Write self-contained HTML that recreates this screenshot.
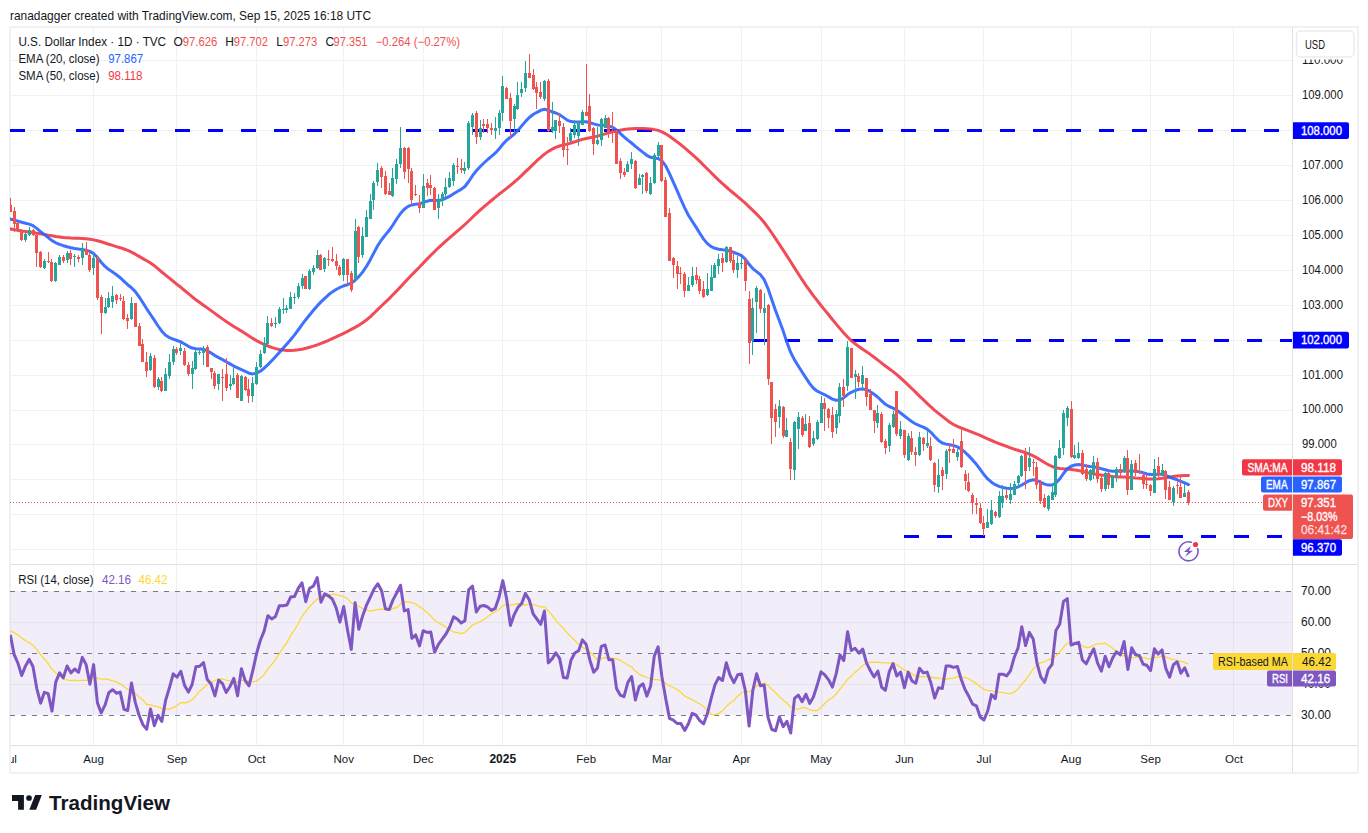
<!DOCTYPE html>
<html><head><meta charset="utf-8"><style>
html,body{margin:0;padding:0;background:#fff;width:1368px;height:833px;overflow:hidden;position:relative}
</style></head><body>
<svg width="1368" height="833" viewBox="0 0 1368 833" style="position:absolute;left:0;top:0"><defs><clipPath id="cm"><rect x="10" y="27" width="1282" height="537"/></clipPath><clipPath id="cr"><rect x="10" y="565" width="1282" height="180"/></clipPath></defs><rect x="10" y="27" width="1348" height="746" fill="none" stroke="#f1f1f3" stroke-width="2"/><text x="10" y="19.5" font-family="Liberation Sans, sans-serif" font-size="13" fill="#131722" textLength="361" lengthAdjust="spacingAndGlyphs">ranadagger created with TradingView.com, Sep 15, 2025 16:18 UTC</text><path d="M10 549.5H1292.5 M10 514.5H1292.5 M10 479.5H1292.5 M10 444.5H1292.5 M10 410.5H1292.5 M10 375.5H1292.5 M10 340.5H1292.5 M10 305.5H1292.5 M10 270.5H1292.5 M10 235.5H1292.5 M10 200.5H1292.5 M10 165.5H1292.5 M10 130.5H1292.5 M10 95.5H1292.5 M10 60.5H1292.5 M93.5 27V745.5 M176.5 27V745.5 M256.5 27V745.5 M343.5 27V745.5 M423.5 27V745.5 M502.5 27V745.5 M586.5 27V745.5 M661.5 27V745.5 M741.5 27V745.5 M821.5 27V745.5 M904.5 27V745.5 M983.5 27V745.5 M1071.5 27V745.5 M1150.5 27V745.5 M1233.5 27V745.5 M10 622.5H1292.5 M10 684.5H1292.5" stroke="#f0f2f2" stroke-width="1" fill="none"/><rect x="10" y="591" width="1282.5" height="124" fill="#7e57c2" fill-opacity="0.1"/><path d="M10 591.5H1292.5" stroke="#787b86" stroke-width="1" stroke-dasharray="5 6" fill="none"/><path d="M10 653.5H1292.5" stroke="#787b86" stroke-width="1" stroke-dasharray="5 6" fill="none"/><path d="M10 715.5H1292.5" stroke="#787b86" stroke-width="1" stroke-dasharray="5 6" fill="none"/><g clip-path="url(#cm)"><path d="M10 130.5H1292.5" stroke="#0000ff" stroke-width="3" stroke-dasharray="15 18" fill="none"/><path d="M752 340.5H1292.5" stroke="#0000ff" stroke-width="3" stroke-dasharray="15 18" fill="none"/><path d="M904 536.5H1292.5" stroke="#0000ff" stroke-width="3" stroke-dasharray="15 18" fill="none"/><path d="M10 502.5H1292.5" stroke="#ef5350" stroke-width="1" stroke-dasharray="1 2" fill="none"/><polyline points="9.7,228.8 11.9,229.2 14.7,229.7 18.0,230.2 21.7,230.9 25.5,231.4 29.2,232.0 33.0,232.6 36.8,233.2 40.6,233.8 44.4,234.5 48.2,235.2 52.0,235.8 55.8,236.5 59.6,237.0 63.3,237.5 67.1,237.8 70.9,238.1 74.7,238.2 78.5,238.3 82.3,238.5 86.1,238.8 89.9,239.2 93.6,239.9 97.4,240.8 101.2,241.8 105.0,243.0 108.8,244.2 112.6,245.4 116.4,246.6 120.2,247.7 124.0,249.0 127.7,250.4 131.5,252.2 135.3,254.2 139.1,256.4 142.9,258.6 146.7,260.7 150.5,263.0 154.3,265.7 158.1,268.8 161.8,272.0 165.6,275.1 169.4,278.2 173.2,281.2 177.0,284.3 180.8,287.3 184.6,290.5 188.4,293.6 192.1,296.7 195.9,299.7 199.7,302.5 203.5,305.2 207.3,307.9 211.1,310.6 214.9,313.4 218.7,316.2 222.5,318.9 226.2,321.5 230.0,324.0 233.8,326.4 237.6,328.8 241.4,331.1 245.2,333.6 249.0,336.0 252.8,338.4 256.6,340.6 260.3,342.6 264.1,344.4 267.9,346.0 271.7,347.4 275.5,348.6 279.3,349.5 283.1,350.1 286.9,350.4 290.6,350.4 294.4,350.2 298.2,349.8 302.0,349.2 305.8,348.3 309.6,347.3 313.4,346.1 317.2,344.8 321.0,343.4 324.7,342.0 328.5,340.4 332.3,338.7 336.1,336.9 339.9,335.1 343.7,333.3 347.5,331.4 351.3,329.4 355.1,327.4 358.8,325.2 362.6,322.8 366.4,320.0 370.2,316.8 374.0,313.2 377.8,309.4 381.6,305.7 385.4,302.1 389.2,298.6 392.9,294.8 396.7,290.9 400.5,286.9 404.3,282.8 408.1,278.8 411.9,274.8 415.7,270.9 419.5,267.0 423.2,263.1 427.0,259.1 430.8,255.3 434.6,251.5 438.4,247.8 442.2,244.3 446.0,240.9 449.8,237.6 453.6,234.3 457.3,231.1 461.1,227.9 464.9,224.5 468.7,221.0 472.5,217.3 476.3,213.7 480.1,210.2 483.9,206.9 487.7,203.6 491.4,200.5 495.2,197.4 499.0,194.3 502.8,191.4 506.6,188.4 510.4,185.4 514.2,182.2 518.0,178.9 521.7,175.3 525.5,171.7 529.3,168.1 533.1,164.4 536.9,160.7 540.7,157.3 544.5,154.1 548.3,151.4 552.1,149.2 555.8,147.4 559.6,146.0 563.4,145.0 567.2,144.1 571.0,143.0 574.8,141.8 578.6,140.5 582.4,139.4 586.2,138.5 589.9,137.8 593.7,137.0 597.5,136.1 601.3,135.0 605.1,133.9 608.9,132.7 612.7,131.8 616.5,131.0 620.2,130.3 624.0,129.6 627.8,129.1 631.6,128.7 635.4,128.5 639.2,128.5 643.0,128.6 646.8,128.8 650.6,129.1 654.3,129.6 658.1,130.4 661.9,131.8 665.7,133.8 669.5,136.2 673.3,139.0 677.1,141.9 680.9,144.8 684.7,147.9 688.4,151.1 692.2,154.4 696.0,157.8 699.8,161.4 703.6,165.2 707.4,169.0 711.2,172.8 715.0,176.6 718.7,180.2 722.5,183.7 726.3,187.0 730.1,190.3 733.9,193.5 737.7,196.7 741.5,199.9 745.3,203.2 749.1,206.8 752.8,210.4 756.6,214.1 760.4,218.0 764.2,222.5 768.0,227.6 771.8,233.0 775.6,238.7 779.4,244.3 783.2,250.1 786.9,255.9 790.7,261.8 794.5,267.9 798.3,273.8 802.1,279.7 805.9,285.3 809.7,290.6 813.5,295.8 817.3,300.7 821.0,305.5 824.8,310.1 828.6,314.8 832.4,319.5 836.2,324.1 840.0,328.6 843.8,332.9 847.6,337.0 851.3,340.6 855.1,343.8 858.9,346.6 862.7,349.2 866.5,351.7 870.3,354.4 874.1,357.2 877.9,360.1 881.7,363.1 885.4,366.0 889.2,368.8 893.0,371.6 896.8,374.7 900.6,378.0 904.4,381.4 908.2,385.1 912.0,388.8 915.8,392.4 919.5,396.1 923.3,399.7 927.1,403.4 930.9,406.9 934.7,410.3 938.5,413.4 942.3,416.4 946.1,419.4 949.8,422.2 953.6,424.6 957.4,426.4 961.2,428.0 965.0,429.4 968.8,430.9 972.6,432.3 976.4,433.8 980.2,435.4 983.9,437.1 987.7,438.9 991.5,440.5 995.3,442.1 999.1,443.6 1002.9,445.0 1006.7,446.4 1010.5,447.8 1014.3,449.2 1018.0,450.3 1021.8,451.5 1025.6,452.7 1029.4,454.1 1033.2,455.9 1037.0,457.9 1040.8,460.2 1044.6,462.5 1048.3,464.7 1052.1,466.5 1055.9,467.7 1059.7,468.4 1063.5,468.8 1067.3,469.1 1071.1,469.4 1074.9,469.9 1078.7,470.6 1082.4,471.5 1086.2,472.4 1090.0,473.2 1093.8,473.9 1097.6,474.4 1101.4,475.0 1105.2,475.5 1109.0,475.9 1112.8,476.4 1116.5,476.7 1120.3,476.9 1124.1,477.0 1127.9,477.3 1131.7,477.5 1135.5,477.9 1139.3,478.2 1143.1,478.6 1146.8,478.9 1150.6,479.0 1154.4,479.0 1158.2,478.7 1162.0,478.3 1165.8,477.7 1169.6,477.1 1173.4,476.6 1177.2,476.1 1180.9,475.7 1184.7,475.6 1188.5,475.5" fill="none" stroke="#f23645" stroke-width="3" stroke-linejoin="round" stroke-linecap="round" opacity="0.9"/><polyline points="9.7,218.9 11.1,219.2 14.1,220.0 17.9,221.1 21.7,222.3 25.5,223.3 29.2,224.1 33.0,225.7 36.8,228.4 40.6,231.6 44.4,234.6 48.2,237.6 52.0,240.6 55.8,242.8 59.6,244.4 63.3,245.7 67.1,246.8 70.9,247.7 74.7,248.5 78.5,249.1 82.3,249.5 86.1,250.2 89.9,251.4 93.6,253.6 97.4,257.4 101.2,262.2 105.0,266.4 108.8,269.6 112.6,272.1 116.4,274.7 120.2,277.7 124.0,281.3 127.7,284.7 131.5,287.7 135.3,291.6 139.1,296.8 142.9,302.8 146.7,308.8 150.5,314.5 154.3,320.2 158.1,326.0 161.8,331.2 165.6,335.2 169.4,337.6 173.2,339.2 177.0,340.5 180.8,341.9 184.6,344.0 188.4,346.3 192.1,348.1 195.9,348.7 199.7,348.9 203.5,349.3 207.3,350.7 211.1,353.1 214.9,355.6 218.7,357.6 222.5,359.6 226.2,361.8 230.0,363.9 233.8,366.0 237.6,367.9 241.4,369.6 245.2,371.4 249.0,373.2 252.8,373.9 256.6,373.1 260.3,371.2 264.1,368.2 267.9,364.6 271.7,360.7 275.5,356.8 279.3,352.5 283.1,348.3 286.9,344.0 290.6,339.7 294.4,335.1 298.2,330.0 302.0,324.7 305.8,319.7 309.6,315.0 313.4,310.3 317.2,305.9 321.0,301.9 324.7,298.3 328.5,294.8 332.3,291.9 336.1,289.5 339.9,287.5 343.7,285.8 347.5,284.7 351.3,283.2 355.1,280.3 358.8,276.6 362.6,272.1 366.4,266.5 370.2,259.9 374.0,252.6 377.8,245.5 381.6,239.7 385.4,234.9 389.2,230.3 392.9,225.0 396.7,219.0 400.5,213.5 404.3,209.3 408.1,206.4 411.9,204.9 415.7,204.2 419.5,203.7 423.2,202.7 427.0,201.2 430.8,200.3 434.6,200.4 438.4,200.5 442.2,199.7 446.0,198.2 449.8,196.2 453.6,193.8 457.3,191.5 461.1,189.4 464.9,186.5 468.7,181.5 472.5,175.7 476.3,170.8 480.1,166.8 483.9,163.0 487.7,159.5 491.4,156.4 495.2,153.2 499.0,149.1 502.8,144.3 506.6,140.3 510.4,137.3 514.2,134.2 518.0,130.3 521.7,125.9 525.5,121.4 529.3,117.5 533.1,114.5 536.9,112.3 540.7,110.3 544.5,109.3 548.3,110.2 552.1,111.8 555.8,113.0 559.6,114.7 563.4,117.4 567.2,120.1 571.0,121.6 574.8,122.0 578.6,121.9 582.4,121.7 586.2,121.8 589.9,122.7 593.7,123.9 597.5,124.9 601.3,125.2 605.1,125.3 608.9,125.8 612.7,127.3 616.5,129.9 620.2,133.3 624.0,136.9 627.8,140.1 631.6,143.0 635.4,146.3 639.2,149.4 643.0,152.4 646.8,155.3 650.6,157.3 654.3,157.9 658.1,158.5 661.9,160.8 665.7,165.9 669.5,173.6 673.3,182.2 677.1,190.7 680.9,199.5 684.7,207.9 688.4,215.2 692.2,221.3 696.0,227.1 699.8,233.3 703.6,239.1 707.4,243.6 711.2,246.6 715.0,248.3 718.7,249.3 722.5,249.8 726.3,250.2 730.1,251.1 733.9,252.5 737.7,253.9 741.5,255.7 745.3,259.1 749.1,264.3 752.8,268.6 756.6,271.6 760.4,274.6 764.2,279.7 768.0,288.6 771.8,299.8 775.6,310.7 779.4,320.7 783.2,331.1 786.9,342.2 790.7,352.4 794.5,359.9 798.3,366.0 802.1,372.0 805.9,377.9 809.7,383.6 813.5,388.3 817.3,391.2 821.0,393.0 824.8,394.8 828.6,396.9 832.4,399.1 836.2,400.3 840.0,399.9 843.8,397.7 847.6,394.6 851.3,392.3 855.1,390.5 858.9,389.3 862.7,388.9 866.5,389.7 870.3,391.7 874.1,394.2 877.9,397.2 881.7,400.9 885.4,404.3 889.2,406.5 893.0,408.1 896.8,410.2 900.6,413.0 904.4,416.0 908.2,418.9 912.0,421.7 915.8,424.0 919.5,425.7 923.3,427.2 927.1,429.2 930.9,432.3 934.7,436.5 938.5,440.4 942.3,443.0 946.1,444.1 949.8,444.8 953.6,445.6 957.4,446.9 961.2,449.1 965.0,452.2 968.8,455.9 972.6,459.9 976.4,464.3 980.2,469.3 983.9,474.5 987.7,478.9 991.5,482.2 995.3,484.7 999.1,486.4 1002.9,487.5 1006.7,488.3 1010.5,488.6 1014.3,488.2 1018.0,486.9 1021.8,485.0 1025.6,482.7 1029.4,480.7 1033.2,479.7 1037.0,480.5 1040.8,482.3 1044.6,484.1 1048.3,485.1 1052.1,485.0 1055.9,483.1 1059.7,479.0 1063.5,473.5 1067.3,468.7 1071.1,466.2 1074.9,465.0 1078.7,464.6 1082.4,465.1 1086.2,465.9 1090.0,466.4 1093.8,466.7 1097.6,467.6 1101.4,468.7 1105.2,469.7 1109.0,470.7 1112.8,471.2 1116.5,471.3 1120.3,471.1 1124.1,471.0 1127.9,471.1 1131.7,471.1 1135.5,471.2 1139.3,471.7 1143.1,472.7 1146.8,473.9 1150.6,474.6 1154.4,474.6 1158.2,474.2 1162.0,474.2 1165.8,475.4 1169.6,477.2 1173.4,478.6 1177.2,479.8 1180.9,481.3 1184.7,482.9 1188.5,484.7" fill="none" stroke="#2962ff" stroke-width="3" stroke-linejoin="round" stroke-linecap="round" opacity="0.9"/><rect x="10" y="198" width="1" height="14" fill="#ef5350"/>
<rect x="9" y="205" width="3" height="7" fill="#ef5350"/>
<rect x="14" y="207" width="1" height="25" fill="#ef5350"/>
<rect x="13" y="211" width="3" height="13" fill="#ef5350"/>
<rect x="17" y="222" width="1" height="10" fill="#ef5350"/>
<rect x="16" y="223" width="3" height="8" fill="#ef5350"/>
<rect x="21" y="229" width="1" height="12" fill="#ef5350"/>
<rect x="20" y="230" width="3" height="10" fill="#ef5350"/>
<rect x="25" y="233" width="1" height="9" fill="#26a69a"/>
<rect x="24" y="234" width="3" height="6" fill="#26a69a"/>
<rect x="29" y="227" width="1" height="9" fill="#26a69a"/>
<rect x="28" y="230" width="3" height="5" fill="#26a69a"/>
<rect x="33" y="229" width="1" height="7" fill="#ef5350"/>
<rect x="32" y="230" width="3" height="5" fill="#ef5350"/>
<rect x="36" y="235" width="1" height="32" fill="#ef5350"/>
<rect x="35" y="235" width="3" height="18" fill="#ef5350"/>
<rect x="40" y="251" width="1" height="17" fill="#ef5350"/>
<rect x="39" y="252" width="3" height="15" fill="#ef5350"/>
<rect x="44" y="259" width="1" height="10" fill="#26a69a"/>
<rect x="43" y="261" width="3" height="7" fill="#26a69a"/>
<rect x="48" y="252" width="1" height="11" fill="#ef5350"/>
<rect x="47" y="261" width="3" height="1" fill="#ef5350"/>
<rect x="51" y="259" width="1" height="23" fill="#ef5350"/>
<rect x="50" y="262" width="3" height="19" fill="#ef5350"/>
<rect x="55" y="262" width="1" height="20" fill="#26a69a"/>
<rect x="54" y="263" width="3" height="18" fill="#26a69a"/>
<rect x="59" y="255" width="1" height="10" fill="#26a69a"/>
<rect x="58" y="257" width="3" height="8" fill="#26a69a"/>
<rect x="63" y="255" width="1" height="8" fill="#ef5350"/>
<rect x="62" y="257" width="3" height="4" fill="#ef5350"/>
<rect x="67" y="251" width="1" height="12" fill="#26a69a"/>
<rect x="66" y="253" width="3" height="7" fill="#26a69a"/>
<rect x="70" y="250" width="1" height="15" fill="#ef5350"/>
<rect x="69" y="253" width="3" height="6" fill="#ef5350"/>
<rect x="74" y="254" width="1" height="13" fill="#26a69a"/>
<rect x="73" y="256" width="3" height="1" fill="#26a69a"/>
<rect x="78" y="255" width="1" height="7" fill="#ef5350"/>
<rect x="77" y="257" width="3" height="2" fill="#ef5350"/>
<rect x="82" y="243" width="1" height="22" fill="#26a69a"/>
<rect x="81" y="249" width="3" height="9" fill="#26a69a"/>
<rect x="86" y="242" width="1" height="13" fill="#ef5350"/>
<rect x="85" y="249" width="3" height="6" fill="#ef5350"/>
<rect x="89" y="251" width="1" height="21" fill="#ef5350"/>
<rect x="88" y="255" width="3" height="15" fill="#ef5350"/>
<rect x="93" y="253" width="1" height="22" fill="#26a69a"/>
<rect x="92" y="258" width="3" height="10" fill="#26a69a"/>
<rect x="97" y="256" width="1" height="44" fill="#ef5350"/>
<rect x="96" y="258" width="3" height="40" fill="#ef5350"/>
<rect x="101" y="295" width="1" height="39" fill="#ef5350"/>
<rect x="100" y="297" width="3" height="16" fill="#ef5350"/>
<rect x="105" y="298" width="1" height="16" fill="#26a69a"/>
<rect x="104" y="307" width="3" height="6" fill="#26a69a"/>
<rect x="108" y="292" width="1" height="16" fill="#26a69a"/>
<rect x="107" y="298" width="3" height="9" fill="#26a69a"/>
<rect x="112" y="286" width="1" height="22" fill="#26a69a"/>
<rect x="111" y="296" width="3" height="6" fill="#26a69a"/>
<rect x="116" y="294" width="1" height="10" fill="#ef5350"/>
<rect x="115" y="295" width="3" height="5" fill="#ef5350"/>
<rect x="120" y="294" width="1" height="7" fill="#ef5350"/>
<rect x="119" y="298" width="3" height="1" fill="#ef5350"/>
<rect x="123" y="296" width="1" height="24" fill="#ef5350"/>
<rect x="122" y="301" width="3" height="18" fill="#ef5350"/>
<rect x="127" y="314" width="1" height="15" fill="#ef5350"/>
<rect x="126" y="318" width="3" height="3" fill="#ef5350"/>
<rect x="131" y="297" width="1" height="23" fill="#26a69a"/>
<rect x="130" y="303" width="3" height="16" fill="#26a69a"/>
<rect x="135" y="303" width="1" height="24" fill="#ef5350"/>
<rect x="134" y="303" width="3" height="24" fill="#ef5350"/>
<rect x="139" y="323" width="1" height="23" fill="#ef5350"/>
<rect x="138" y="326" width="3" height="20" fill="#ef5350"/>
<rect x="142" y="339" width="1" height="23" fill="#ef5350"/>
<rect x="141" y="344" width="3" height="18" fill="#ef5350"/>
<rect x="146" y="352" width="1" height="25" fill="#ef5350"/>
<rect x="145" y="362" width="3" height="9" fill="#ef5350"/>
<rect x="150" y="353" width="1" height="18" fill="#26a69a"/>
<rect x="149" y="356" width="3" height="14" fill="#26a69a"/>
<rect x="154" y="355" width="1" height="33" fill="#ef5350"/>
<rect x="153" y="358" width="3" height="29" fill="#ef5350"/>
<rect x="158" y="377" width="1" height="13" fill="#26a69a"/>
<rect x="157" y="379" width="3" height="8" fill="#26a69a"/>
<rect x="161" y="377" width="1" height="15" fill="#ef5350"/>
<rect x="160" y="381" width="3" height="10" fill="#ef5350"/>
<rect x="165" y="368" width="1" height="23" fill="#26a69a"/>
<rect x="164" y="374" width="3" height="17" fill="#26a69a"/>
<rect x="169" y="354" width="1" height="25" fill="#26a69a"/>
<rect x="168" y="362" width="3" height="14" fill="#26a69a"/>
<rect x="173" y="346" width="1" height="19" fill="#26a69a"/>
<rect x="172" y="349" width="3" height="13" fill="#26a69a"/>
<rect x="176" y="347" width="1" height="8" fill="#ef5350"/>
<rect x="175" y="349" width="3" height="4" fill="#ef5350"/>
<rect x="180" y="343" width="1" height="12" fill="#26a69a"/>
<rect x="179" y="348" width="3" height="3" fill="#26a69a"/>
<rect x="184" y="348" width="1" height="18" fill="#ef5350"/>
<rect x="183" y="351" width="3" height="14" fill="#ef5350"/>
<rect x="188" y="362" width="1" height="14" fill="#ef5350"/>
<rect x="187" y="365" width="3" height="9" fill="#ef5350"/>
<rect x="192" y="361" width="1" height="28" fill="#26a69a"/>
<rect x="191" y="368" width="3" height="6" fill="#26a69a"/>
<rect x="195" y="350" width="1" height="20" fill="#26a69a"/>
<rect x="194" y="352" width="3" height="17" fill="#26a69a"/>
<rect x="199" y="349" width="1" height="6" fill="#26a69a"/>
<rect x="198" y="352" width="3" height="1" fill="#26a69a"/>
<rect x="203" y="346" width="1" height="19" fill="#26a69a"/>
<rect x="202" y="349" width="3" height="4" fill="#26a69a"/>
<rect x="207" y="345" width="1" height="22" fill="#ef5350"/>
<rect x="206" y="347" width="3" height="20" fill="#ef5350"/>
<rect x="211" y="368" width="1" height="11" fill="#ef5350"/>
<rect x="210" y="368" width="3" height="4" fill="#ef5350"/>
<rect x="214" y="371" width="1" height="18" fill="#ef5350"/>
<rect x="213" y="373" width="3" height="13" fill="#ef5350"/>
<rect x="218" y="374" width="1" height="16" fill="#26a69a"/>
<rect x="217" y="374" width="3" height="10" fill="#26a69a"/>
<rect x="222" y="369" width="1" height="32" fill="#ef5350"/>
<rect x="221" y="377" width="3" height="1" fill="#ef5350"/>
<rect x="226" y="358" width="1" height="33" fill="#ef5350"/>
<rect x="225" y="374" width="3" height="14" fill="#ef5350"/>
<rect x="230" y="375" width="1" height="15" fill="#26a69a"/>
<rect x="229" y="384" width="3" height="2" fill="#26a69a"/>
<rect x="233" y="367" width="1" height="18" fill="#26a69a"/>
<rect x="232" y="378" width="3" height="6" fill="#26a69a"/>
<rect x="237" y="373" width="1" height="25" fill="#ef5350"/>
<rect x="236" y="375" width="3" height="23" fill="#ef5350"/>
<rect x="241" y="375" width="1" height="26" fill="#26a69a"/>
<rect x="240" y="376" width="3" height="25" fill="#26a69a"/>
<rect x="245" y="376" width="1" height="15" fill="#ef5350"/>
<rect x="244" y="377" width="3" height="13" fill="#ef5350"/>
<rect x="248" y="379" width="1" height="24" fill="#ef5350"/>
<rect x="247" y="389" width="3" height="7" fill="#ef5350"/>
<rect x="252" y="377" width="1" height="25" fill="#26a69a"/>
<rect x="251" y="383" width="3" height="13" fill="#26a69a"/>
<rect x="256" y="362" width="1" height="23" fill="#26a69a"/>
<rect x="255" y="367" width="3" height="17" fill="#26a69a"/>
<rect x="260" y="350" width="1" height="18" fill="#26a69a"/>
<rect x="259" y="354" width="3" height="13" fill="#26a69a"/>
<rect x="264" y="337" width="1" height="17" fill="#26a69a"/>
<rect x="263" y="343" width="3" height="10" fill="#26a69a"/>
<rect x="267" y="316" width="1" height="29" fill="#26a69a"/>
<rect x="266" y="323" width="3" height="21" fill="#26a69a"/>
<rect x="271" y="318" width="1" height="9" fill="#ef5350"/>
<rect x="270" y="323" width="3" height="3" fill="#ef5350"/>
<rect x="275" y="317" width="1" height="11" fill="#26a69a"/>
<rect x="274" y="323" width="3" height="1" fill="#26a69a"/>
<rect x="279" y="307" width="1" height="17" fill="#26a69a"/>
<rect x="278" y="309" width="3" height="14" fill="#26a69a"/>
<rect x="283" y="298" width="1" height="16" fill="#26a69a"/>
<rect x="282" y="309" width="3" height="1" fill="#26a69a"/>
<rect x="286" y="305" width="1" height="8" fill="#26a69a"/>
<rect x="285" y="308" width="3" height="2" fill="#26a69a"/>
<rect x="290" y="292" width="1" height="17" fill="#26a69a"/>
<rect x="289" y="297" width="3" height="12" fill="#26a69a"/>
<rect x="294" y="293" width="1" height="11" fill="#26a69a"/>
<rect x="293" y="297" width="3" height="1" fill="#26a69a"/>
<rect x="298" y="283" width="1" height="16" fill="#26a69a"/>
<rect x="297" y="286" width="3" height="11" fill="#26a69a"/>
<rect x="302" y="274" width="1" height="15" fill="#26a69a"/>
<rect x="301" y="278" width="3" height="8" fill="#26a69a"/>
<rect x="305" y="276" width="1" height="13" fill="#ef5350"/>
<rect x="304" y="276" width="3" height="13" fill="#ef5350"/>
<rect x="309" y="269" width="1" height="21" fill="#26a69a"/>
<rect x="308" y="271" width="3" height="18" fill="#26a69a"/>
<rect x="313" y="265" width="1" height="10" fill="#26a69a"/>
<rect x="312" y="268" width="3" height="4" fill="#26a69a"/>
<rect x="317" y="250" width="1" height="19" fill="#26a69a"/>
<rect x="316" y="255" width="3" height="13" fill="#26a69a"/>
<rect x="320" y="254" width="1" height="16" fill="#ef5350"/>
<rect x="319" y="255" width="3" height="15" fill="#ef5350"/>
<rect x="324" y="257" width="1" height="15" fill="#26a69a"/>
<rect x="323" y="258" width="3" height="11" fill="#26a69a"/>
<rect x="328" y="250" width="1" height="16" fill="#ef5350"/>
<rect x="327" y="259" width="3" height="1" fill="#ef5350"/>
<rect x="332" y="247" width="1" height="15" fill="#ef5350"/>
<rect x="331" y="259" width="3" height="2" fill="#ef5350"/>
<rect x="336" y="254" width="1" height="16" fill="#ef5350"/>
<rect x="335" y="261" width="3" height="5" fill="#ef5350"/>
<rect x="339" y="265" width="1" height="11" fill="#ef5350"/>
<rect x="338" y="267" width="3" height="8" fill="#ef5350"/>
<rect x="343" y="258" width="1" height="23" fill="#26a69a"/>
<rect x="342" y="259" width="3" height="16" fill="#26a69a"/>
<rect x="347" y="259" width="1" height="26" fill="#ef5350"/>
<rect x="346" y="259" width="3" height="16" fill="#ef5350"/>
<rect x="351" y="271" width="1" height="21" fill="#ef5350"/>
<rect x="350" y="273" width="3" height="17" fill="#ef5350"/>
<rect x="355" y="219" width="1" height="62" fill="#26a69a"/>
<rect x="354" y="231" width="3" height="49" fill="#26a69a"/>
<rect x="358" y="226" width="1" height="37" fill="#ef5350"/>
<rect x="357" y="227" width="3" height="30" fill="#ef5350"/>
<rect x="362" y="227" width="1" height="31" fill="#26a69a"/>
<rect x="361" y="236" width="3" height="19" fill="#26a69a"/>
<rect x="366" y="210" width="1" height="27" fill="#26a69a"/>
<rect x="365" y="217" width="3" height="20" fill="#26a69a"/>
<rect x="370" y="194" width="1" height="25" fill="#26a69a"/>
<rect x="369" y="201" width="3" height="18" fill="#26a69a"/>
<rect x="373" y="181" width="1" height="29" fill="#26a69a"/>
<rect x="372" y="183" width="3" height="17" fill="#26a69a"/>
<rect x="377" y="163" width="1" height="23" fill="#26a69a"/>
<rect x="376" y="170" width="3" height="12" fill="#26a69a"/>
<rect x="381" y="166" width="1" height="22" fill="#ef5350"/>
<rect x="380" y="168" width="3" height="9" fill="#ef5350"/>
<rect x="385" y="171" width="1" height="24" fill="#ef5350"/>
<rect x="384" y="176" width="3" height="18" fill="#ef5350"/>
<rect x="389" y="183" width="1" height="12" fill="#ef5350"/>
<rect x="388" y="191" width="3" height="4" fill="#ef5350"/>
<rect x="392" y="168" width="1" height="29" fill="#26a69a"/>
<rect x="391" y="178" width="3" height="18" fill="#26a69a"/>
<rect x="396" y="159" width="1" height="25" fill="#26a69a"/>
<rect x="395" y="164" width="3" height="15" fill="#26a69a"/>
<rect x="400" y="127" width="1" height="41" fill="#26a69a"/>
<rect x="399" y="148" width="3" height="16" fill="#26a69a"/>
<rect x="404" y="147" width="1" height="32" fill="#ef5350"/>
<rect x="403" y="148" width="3" height="24" fill="#ef5350"/>
<rect x="408" y="147" width="1" height="36" fill="#ef5350"/>
<rect x="407" y="148" width="3" height="21" fill="#ef5350"/>
<rect x="411" y="168" width="1" height="37" fill="#ef5350"/>
<rect x="410" y="171" width="3" height="29" fill="#ef5350"/>
<rect x="415" y="185" width="1" height="11" fill="#ef5350"/>
<rect x="414" y="194" width="3" height="1" fill="#ef5350"/>
<rect x="419" y="195" width="1" height="18" fill="#ef5350"/>
<rect x="418" y="203" width="3" height="5" fill="#ef5350"/>
<rect x="423" y="174" width="1" height="34" fill="#26a69a"/>
<rect x="422" y="186" width="3" height="22" fill="#26a69a"/>
<rect x="427" y="179" width="1" height="17" fill="#ef5350"/>
<rect x="426" y="183" width="3" height="5" fill="#ef5350"/>
<rect x="430" y="175" width="1" height="20" fill="#ef5350"/>
<rect x="429" y="185" width="3" height="3" fill="#ef5350"/>
<rect x="434" y="187" width="1" height="23" fill="#ef5350"/>
<rect x="433" y="188" width="3" height="22" fill="#ef5350"/>
<rect x="438" y="194" width="1" height="25" fill="#26a69a"/>
<rect x="437" y="200" width="3" height="8" fill="#26a69a"/>
<rect x="442" y="192" width="1" height="14" fill="#26a69a"/>
<rect x="441" y="194" width="3" height="7" fill="#26a69a"/>
<rect x="445" y="178" width="1" height="19" fill="#26a69a"/>
<rect x="444" y="187" width="3" height="7" fill="#26a69a"/>
<rect x="449" y="172" width="1" height="16" fill="#26a69a"/>
<rect x="448" y="178" width="3" height="9" fill="#26a69a"/>
<rect x="453" y="163" width="1" height="23" fill="#26a69a"/>
<rect x="452" y="165" width="3" height="16" fill="#26a69a"/>
<rect x="457" y="158" width="1" height="16" fill="#ef5350"/>
<rect x="456" y="166" width="3" height="1" fill="#ef5350"/>
<rect x="461" y="159" width="1" height="14" fill="#ef5350"/>
<rect x="460" y="168" width="3" height="2" fill="#ef5350"/>
<rect x="464" y="162" width="1" height="12" fill="#26a69a"/>
<rect x="463" y="168" width="3" height="3" fill="#26a69a"/>
<rect x="468" y="121" width="1" height="49" fill="#26a69a"/>
<rect x="467" y="123" width="3" height="45" fill="#26a69a"/>
<rect x="472" y="113" width="1" height="22" fill="#26a69a"/>
<rect x="471" y="115" width="3" height="12" fill="#26a69a"/>
<rect x="476" y="111" width="1" height="33" fill="#ef5350"/>
<rect x="475" y="113" width="3" height="24" fill="#ef5350"/>
<rect x="480" y="120" width="1" height="20" fill="#26a69a"/>
<rect x="479" y="128" width="3" height="9" fill="#26a69a"/>
<rect x="483" y="119" width="1" height="14" fill="#ef5350"/>
<rect x="482" y="124" width="3" height="2" fill="#ef5350"/>
<rect x="487" y="119" width="1" height="14" fill="#ef5350"/>
<rect x="486" y="124" width="3" height="4" fill="#ef5350"/>
<rect x="491" y="123" width="1" height="12" fill="#ef5350"/>
<rect x="490" y="128" width="3" height="2" fill="#ef5350"/>
<rect x="495" y="117" width="1" height="22" fill="#26a69a"/>
<rect x="494" y="128" width="3" height="3" fill="#26a69a"/>
<rect x="499" y="110" width="1" height="25" fill="#26a69a"/>
<rect x="498" y="113" width="3" height="15" fill="#26a69a"/>
<rect x="502" y="76" width="1" height="45" fill="#26a69a"/>
<rect x="501" y="86" width="3" height="27" fill="#26a69a"/>
<rect x="506" y="87" width="1" height="12" fill="#ef5350"/>
<rect x="505" y="88" width="3" height="11" fill="#ef5350"/>
<rect x="510" y="93" width="1" height="45" fill="#ef5350"/>
<rect x="509" y="98" width="3" height="23" fill="#ef5350"/>
<rect x="514" y="104" width="1" height="30" fill="#26a69a"/>
<rect x="513" y="106" width="3" height="13" fill="#26a69a"/>
<rect x="517" y="82" width="1" height="28" fill="#26a69a"/>
<rect x="516" y="95" width="3" height="14" fill="#26a69a"/>
<rect x="521" y="82" width="1" height="15" fill="#26a69a"/>
<rect x="520" y="89" width="3" height="4" fill="#26a69a"/>
<rect x="525" y="61" width="1" height="31" fill="#26a69a"/>
<rect x="524" y="73" width="3" height="15" fill="#26a69a"/>
<rect x="529" y="54" width="1" height="24" fill="#ef5350"/>
<rect x="528" y="73" width="3" height="5" fill="#ef5350"/>
<rect x="533" y="69" width="1" height="21" fill="#ef5350"/>
<rect x="532" y="75" width="3" height="14" fill="#ef5350"/>
<rect x="536" y="82" width="1" height="27" fill="#ef5350"/>
<rect x="535" y="87" width="3" height="6" fill="#ef5350"/>
<rect x="540" y="82" width="1" height="17" fill="#ef5350"/>
<rect x="539" y="92" width="3" height="5" fill="#ef5350"/>
<rect x="544" y="80" width="1" height="21" fill="#26a69a"/>
<rect x="543" y="81" width="3" height="18" fill="#26a69a"/>
<rect x="548" y="79" width="1" height="53" fill="#ef5350"/>
<rect x="547" y="81" width="3" height="50" fill="#ef5350"/>
<rect x="552" y="102" width="1" height="31" fill="#26a69a"/>
<rect x="551" y="127" width="3" height="4" fill="#26a69a"/>
<rect x="555" y="120" width="1" height="19" fill="#26a69a"/>
<rect x="554" y="120" width="3" height="11" fill="#26a69a"/>
<rect x="559" y="113" width="1" height="20" fill="#ef5350"/>
<rect x="558" y="121" width="3" height="5" fill="#ef5350"/>
<rect x="563" y="123" width="1" height="34" fill="#ef5350"/>
<rect x="562" y="127" width="3" height="23" fill="#ef5350"/>
<rect x="567" y="137" width="1" height="28" fill="#ef5350"/>
<rect x="566" y="149" width="3" height="1" fill="#ef5350"/>
<rect x="570" y="128" width="1" height="14" fill="#26a69a"/>
<rect x="569" y="133" width="3" height="8" fill="#26a69a"/>
<rect x="574" y="120" width="1" height="18" fill="#26a69a"/>
<rect x="573" y="125" width="3" height="10" fill="#26a69a"/>
<rect x="578" y="121" width="1" height="25" fill="#26a69a"/>
<rect x="577" y="123" width="3" height="13" fill="#26a69a"/>
<rect x="582" y="110" width="1" height="15" fill="#26a69a"/>
<rect x="581" y="112" width="3" height="13" fill="#26a69a"/>
<rect x="586" y="64" width="1" height="52" fill="#ef5350"/>
<rect x="585" y="112" width="3" height="4" fill="#ef5350"/>
<rect x="589" y="94" width="1" height="38" fill="#ef5350"/>
<rect x="588" y="106" width="3" height="25" fill="#ef5350"/>
<rect x="593" y="127" width="1" height="28" fill="#ef5350"/>
<rect x="592" y="128" width="3" height="16" fill="#ef5350"/>
<rect x="597" y="127" width="1" height="18" fill="#26a69a"/>
<rect x="596" y="140" width="3" height="4" fill="#26a69a"/>
<rect x="601" y="118" width="1" height="28" fill="#26a69a"/>
<rect x="600" y="119" width="3" height="21" fill="#26a69a"/>
<rect x="605" y="115" width="1" height="13" fill="#26a69a"/>
<rect x="604" y="118" width="3" height="10" fill="#26a69a"/>
<rect x="608" y="117" width="1" height="21" fill="#ef5350"/>
<rect x="607" y="118" width="3" height="14" fill="#ef5350"/>
<rect x="612" y="112" width="1" height="31" fill="#ef5350"/>
<rect x="611" y="131" width="3" height="1" fill="#ef5350"/>
<rect x="616" y="130" width="1" height="34" fill="#ef5350"/>
<rect x="615" y="131" width="3" height="33" fill="#ef5350"/>
<rect x="620" y="158" width="1" height="21" fill="#ef5350"/>
<rect x="619" y="161" width="3" height="12" fill="#ef5350"/>
<rect x="624" y="168" width="1" height="9" fill="#ef5350"/>
<rect x="623" y="172" width="3" height="3" fill="#ef5350"/>
<rect x="627" y="161" width="1" height="11" fill="#26a69a"/>
<rect x="626" y="164" width="3" height="8" fill="#26a69a"/>
<rect x="631" y="152" width="1" height="17" fill="#26a69a"/>
<rect x="630" y="159" width="3" height="5" fill="#26a69a"/>
<rect x="635" y="160" width="1" height="29" fill="#ef5350"/>
<rect x="634" y="161" width="3" height="27" fill="#ef5350"/>
<rect x="639" y="174" width="1" height="11" fill="#26a69a"/>
<rect x="638" y="178" width="3" height="7" fill="#26a69a"/>
<rect x="642" y="174" width="1" height="20" fill="#26a69a"/>
<rect x="641" y="175" width="3" height="2" fill="#26a69a"/>
<rect x="646" y="172" width="1" height="21" fill="#ef5350"/>
<rect x="645" y="173" width="3" height="18" fill="#ef5350"/>
<rect x="650" y="177" width="1" height="18" fill="#26a69a"/>
<rect x="649" y="183" width="3" height="11" fill="#26a69a"/>
<rect x="654" y="153" width="1" height="31" fill="#26a69a"/>
<rect x="653" y="155" width="3" height="28" fill="#26a69a"/>
<rect x="658" y="142" width="1" height="16" fill="#26a69a"/>
<rect x="657" y="145" width="3" height="11" fill="#26a69a"/>
<rect x="661" y="145" width="1" height="37" fill="#ef5350"/>
<rect x="660" y="145" width="3" height="36" fill="#ef5350"/>
<rect x="665" y="177" width="1" height="40" fill="#ef5350"/>
<rect x="664" y="180" width="3" height="37" fill="#ef5350"/>
<rect x="669" y="208" width="1" height="53" fill="#ef5350"/>
<rect x="668" y="213" width="3" height="48" fill="#ef5350"/>
<rect x="673" y="257" width="1" height="21" fill="#ef5350"/>
<rect x="672" y="258" width="3" height="7" fill="#ef5350"/>
<rect x="677" y="261" width="1" height="28" fill="#ef5350"/>
<rect x="676" y="266" width="3" height="8" fill="#ef5350"/>
<rect x="680" y="267" width="1" height="17" fill="#ef5350"/>
<rect x="679" y="273" width="3" height="1" fill="#ef5350"/>
<rect x="684" y="272" width="1" height="25" fill="#ef5350"/>
<rect x="683" y="274" width="3" height="17" fill="#ef5350"/>
<rect x="688" y="277" width="1" height="14" fill="#26a69a"/>
<rect x="687" y="285" width="3" height="6" fill="#26a69a"/>
<rect x="692" y="267" width="1" height="20" fill="#26a69a"/>
<rect x="691" y="276" width="3" height="9" fill="#26a69a"/>
<rect x="696" y="267" width="1" height="17" fill="#ef5350"/>
<rect x="695" y="275" width="3" height="5" fill="#ef5350"/>
<rect x="699" y="276" width="1" height="18" fill="#ef5350"/>
<rect x="698" y="279" width="3" height="12" fill="#ef5350"/>
<rect x="703" y="281" width="1" height="17" fill="#ef5350"/>
<rect x="702" y="289" width="3" height="8" fill="#ef5350"/>
<rect x="707" y="273" width="1" height="23" fill="#26a69a"/>
<rect x="706" y="289" width="3" height="6" fill="#26a69a"/>
<rect x="711" y="265" width="1" height="26" fill="#26a69a"/>
<rect x="710" y="277" width="3" height="14" fill="#26a69a"/>
<rect x="714" y="263" width="1" height="15" fill="#26a69a"/>
<rect x="713" y="265" width="3" height="13" fill="#26a69a"/>
<rect x="718" y="254" width="1" height="20" fill="#26a69a"/>
<rect x="717" y="259" width="3" height="7" fill="#26a69a"/>
<rect x="722" y="253" width="1" height="19" fill="#ef5350"/>
<rect x="721" y="258" width="3" height="5" fill="#ef5350"/>
<rect x="726" y="246" width="1" height="17" fill="#26a69a"/>
<rect x="725" y="247" width="3" height="15" fill="#26a69a"/>
<rect x="730" y="247" width="1" height="16" fill="#ef5350"/>
<rect x="729" y="247" width="3" height="14" fill="#ef5350"/>
<rect x="733" y="252" width="1" height="21" fill="#ef5350"/>
<rect x="732" y="260" width="3" height="10" fill="#ef5350"/>
<rect x="737" y="256" width="1" height="22" fill="#26a69a"/>
<rect x="736" y="263" width="3" height="7" fill="#26a69a"/>
<rect x="741" y="257" width="1" height="12" fill="#26a69a"/>
<rect x="740" y="263" width="3" height="1" fill="#26a69a"/>
<rect x="745" y="258" width="1" height="33" fill="#ef5350"/>
<rect x="744" y="260" width="3" height="21" fill="#ef5350"/>
<rect x="749" y="291" width="1" height="73" fill="#ef5350"/>
<rect x="748" y="299" width="3" height="44" fill="#ef5350"/>
<rect x="752" y="298" width="1" height="57" fill="#26a69a"/>
<rect x="751" y="308" width="3" height="33" fill="#26a69a"/>
<rect x="756" y="286" width="1" height="47" fill="#26a69a"/>
<rect x="755" y="288" width="3" height="14" fill="#26a69a"/>
<rect x="760" y="289" width="1" height="24" fill="#ef5350"/>
<rect x="759" y="290" width="3" height="19" fill="#ef5350"/>
<rect x="764" y="293" width="1" height="52" fill="#26a69a"/>
<rect x="763" y="308" width="3" height="5" fill="#26a69a"/>
<rect x="768" y="304" width="1" height="81" fill="#ef5350"/>
<rect x="767" y="305" width="3" height="74" fill="#ef5350"/>
<rect x="771" y="382" width="1" height="62" fill="#ef5350"/>
<rect x="770" y="382" width="3" height="36" fill="#ef5350"/>
<rect x="775" y="404" width="1" height="33" fill="#ef5350"/>
<rect x="774" y="409" width="3" height="13" fill="#ef5350"/>
<rect x="779" y="400" width="1" height="28" fill="#26a69a"/>
<rect x="778" y="406" width="3" height="11" fill="#26a69a"/>
<rect x="783" y="406" width="1" height="32" fill="#ef5350"/>
<rect x="782" y="407" width="3" height="29" fill="#ef5350"/>
<rect x="786" y="418" width="1" height="19" fill="#26a69a"/>
<rect x="785" y="430" width="3" height="7" fill="#26a69a"/>
<rect x="790" y="438" width="1" height="42" fill="#ef5350"/>
<rect x="789" y="442" width="3" height="27" fill="#ef5350"/>
<rect x="794" y="421" width="1" height="59" fill="#26a69a"/>
<rect x="793" y="422" width="3" height="48" fill="#26a69a"/>
<rect x="798" y="412" width="1" height="37" fill="#26a69a"/>
<rect x="797" y="417" width="3" height="12" fill="#26a69a"/>
<rect x="802" y="416" width="1" height="21" fill="#ef5350"/>
<rect x="801" y="418" width="3" height="17" fill="#ef5350"/>
<rect x="805" y="414" width="1" height="17" fill="#26a69a"/>
<rect x="804" y="424" width="3" height="7" fill="#26a69a"/>
<rect x="809" y="416" width="1" height="32" fill="#ef5350"/>
<rect x="808" y="423" width="3" height="24" fill="#ef5350"/>
<rect x="813" y="431" width="1" height="15" fill="#26a69a"/>
<rect x="812" y="438" width="3" height="6" fill="#26a69a"/>
<rect x="817" y="420" width="1" height="20" fill="#26a69a"/>
<rect x="816" y="422" width="3" height="17" fill="#26a69a"/>
<rect x="821" y="396" width="1" height="27" fill="#26a69a"/>
<rect x="820" y="403" width="3" height="20" fill="#26a69a"/>
<rect x="824" y="398" width="1" height="33" fill="#ef5350"/>
<rect x="823" y="403" width="3" height="6" fill="#ef5350"/>
<rect x="828" y="408" width="1" height="20" fill="#ef5350"/>
<rect x="827" y="409" width="3" height="9" fill="#ef5350"/>
<rect x="832" y="407" width="1" height="31" fill="#ef5350"/>
<rect x="831" y="415" width="3" height="17" fill="#ef5350"/>
<rect x="836" y="410" width="1" height="24" fill="#26a69a"/>
<rect x="835" y="414" width="3" height="14" fill="#26a69a"/>
<rect x="839" y="383" width="1" height="40" fill="#26a69a"/>
<rect x="838" y="387" width="3" height="29" fill="#26a69a"/>
<rect x="843" y="379" width="1" height="28" fill="#ef5350"/>
<rect x="842" y="387" width="3" height="9" fill="#ef5350"/>
<rect x="847" y="341" width="1" height="50" fill="#26a69a"/>
<rect x="846" y="347" width="3" height="39" fill="#26a69a"/>
<rect x="851" y="348" width="1" height="30" fill="#ef5350"/>
<rect x="850" y="348" width="3" height="30" fill="#ef5350"/>
<rect x="855" y="370" width="1" height="29" fill="#26a69a"/>
<rect x="854" y="374" width="3" height="3" fill="#26a69a"/>
<rect x="858" y="373" width="1" height="14" fill="#ef5350"/>
<rect x="857" y="376" width="3" height="6" fill="#ef5350"/>
<rect x="862" y="366" width="1" height="25" fill="#26a69a"/>
<rect x="861" y="375" width="3" height="9" fill="#26a69a"/>
<rect x="866" y="378" width="1" height="28" fill="#ef5350"/>
<rect x="865" y="378" width="3" height="19" fill="#ef5350"/>
<rect x="870" y="389" width="1" height="21" fill="#ef5350"/>
<rect x="869" y="394" width="3" height="16" fill="#ef5350"/>
<rect x="874" y="410" width="1" height="23" fill="#ef5350"/>
<rect x="873" y="410" width="3" height="11" fill="#ef5350"/>
<rect x="877" y="405" width="1" height="23" fill="#26a69a"/>
<rect x="876" y="413" width="3" height="10" fill="#26a69a"/>
<rect x="881" y="412" width="1" height="31" fill="#ef5350"/>
<rect x="880" y="414" width="3" height="28" fill="#ef5350"/>
<rect x="885" y="439" width="1" height="15" fill="#ef5350"/>
<rect x="884" y="441" width="3" height="7" fill="#ef5350"/>
<rect x="889" y="423" width="1" height="29" fill="#26a69a"/>
<rect x="888" y="425" width="3" height="21" fill="#26a69a"/>
<rect x="893" y="411" width="1" height="17" fill="#26a69a"/>
<rect x="892" y="414" width="3" height="13" fill="#26a69a"/>
<rect x="896" y="391" width="1" height="45" fill="#ef5350"/>
<rect x="895" y="391" width="3" height="43" fill="#ef5350"/>
<rect x="900" y="421" width="1" height="18" fill="#26a69a"/>
<rect x="899" y="429" width="3" height="7" fill="#26a69a"/>
<rect x="904" y="430" width="1" height="28" fill="#ef5350"/>
<rect x="903" y="430" width="3" height="25" fill="#ef5350"/>
<rect x="908" y="433" width="1" height="28" fill="#26a69a"/>
<rect x="907" y="436" width="3" height="24" fill="#26a69a"/>
<rect x="911" y="431" width="1" height="24" fill="#ef5350"/>
<rect x="910" y="438" width="3" height="14" fill="#ef5350"/>
<rect x="915" y="447" width="1" height="19" fill="#ef5350"/>
<rect x="914" y="452" width="3" height="3" fill="#ef5350"/>
<rect x="919" y="432" width="1" height="24" fill="#26a69a"/>
<rect x="918" y="437" width="3" height="18" fill="#26a69a"/>
<rect x="923" y="437" width="1" height="14" fill="#ef5350"/>
<rect x="922" y="438" width="3" height="6" fill="#ef5350"/>
<rect x="927" y="431" width="1" height="17" fill="#26a69a"/>
<rect x="926" y="443" width="3" height="3" fill="#26a69a"/>
<rect x="930" y="437" width="1" height="24" fill="#ef5350"/>
<rect x="929" y="446" width="3" height="14" fill="#ef5350"/>
<rect x="934" y="462" width="1" height="30" fill="#ef5350"/>
<rect x="933" y="463" width="3" height="22" fill="#ef5350"/>
<rect x="938" y="459" width="1" height="34" fill="#26a69a"/>
<rect x="937" y="475" width="3" height="12" fill="#26a69a"/>
<rect x="942" y="467" width="1" height="23" fill="#ef5350"/>
<rect x="941" y="470" width="3" height="6" fill="#ef5350"/>
<rect x="946" y="449" width="1" height="30" fill="#26a69a"/>
<rect x="945" y="451" width="3" height="23" fill="#26a69a"/>
<rect x="949" y="444" width="1" height="19" fill="#ef5350"/>
<rect x="948" y="449" width="3" height="2" fill="#ef5350"/>
<rect x="953" y="439" width="1" height="14" fill="#ef5350"/>
<rect x="952" y="449" width="3" height="4" fill="#ef5350"/>
<rect x="957" y="449" width="1" height="12" fill="#26a69a"/>
<rect x="956" y="452" width="3" height="5" fill="#26a69a"/>
<rect x="961" y="430" width="1" height="38" fill="#ef5350"/>
<rect x="960" y="441" width="3" height="26" fill="#ef5350"/>
<rect x="965" y="470" width="1" height="20" fill="#ef5350"/>
<rect x="964" y="474" width="3" height="7" fill="#ef5350"/>
<rect x="968" y="473" width="1" height="19" fill="#ef5350"/>
<rect x="967" y="482" width="3" height="9" fill="#ef5350"/>
<rect x="972" y="493" width="1" height="21" fill="#ef5350"/>
<rect x="971" y="495" width="3" height="8" fill="#ef5350"/>
<rect x="976" y="498" width="1" height="16" fill="#ef5350"/>
<rect x="975" y="503" width="3" height="2" fill="#ef5350"/>
<rect x="980" y="503" width="1" height="21" fill="#ef5350"/>
<rect x="979" y="508" width="3" height="15" fill="#ef5350"/>
<rect x="983" y="516" width="1" height="20" fill="#ef5350"/>
<rect x="982" y="523" width="3" height="6" fill="#ef5350"/>
<rect x="987" y="509" width="1" height="19" fill="#26a69a"/>
<rect x="986" y="522" width="3" height="6" fill="#26a69a"/>
<rect x="991" y="500" width="1" height="25" fill="#26a69a"/>
<rect x="990" y="510" width="3" height="14" fill="#26a69a"/>
<rect x="995" y="511" width="1" height="7" fill="#ef5350"/>
<rect x="994" y="512" width="3" height="4" fill="#ef5350"/>
<rect x="999" y="491" width="1" height="27" fill="#26a69a"/>
<rect x="998" y="496" width="3" height="21" fill="#26a69a"/>
<rect x="1002" y="485" width="1" height="23" fill="#26a69a"/>
<rect x="1001" y="496" width="3" height="7" fill="#26a69a"/>
<rect x="1006" y="489" width="1" height="11" fill="#ef5350"/>
<rect x="1005" y="495" width="3" height="3" fill="#ef5350"/>
<rect x="1010" y="483" width="1" height="21" fill="#26a69a"/>
<rect x="1009" y="494" width="3" height="6" fill="#26a69a"/>
<rect x="1014" y="481" width="1" height="14" fill="#26a69a"/>
<rect x="1013" y="484" width="3" height="11" fill="#26a69a"/>
<rect x="1018" y="475" width="1" height="12" fill="#26a69a"/>
<rect x="1017" y="476" width="3" height="7" fill="#26a69a"/>
<rect x="1021" y="455" width="1" height="22" fill="#26a69a"/>
<rect x="1020" y="456" width="3" height="20" fill="#26a69a"/>
<rect x="1025" y="448" width="1" height="41" fill="#ef5350"/>
<rect x="1024" y="454" width="3" height="17" fill="#ef5350"/>
<rect x="1029" y="447" width="1" height="24" fill="#26a69a"/>
<rect x="1028" y="458" width="3" height="9" fill="#26a69a"/>
<rect x="1033" y="459" width="1" height="17" fill="#ef5350"/>
<rect x="1032" y="462" width="3" height="1" fill="#ef5350"/>
<rect x="1036" y="462" width="1" height="27" fill="#ef5350"/>
<rect x="1035" y="467" width="3" height="18" fill="#ef5350"/>
<rect x="1040" y="480" width="1" height="24" fill="#ef5350"/>
<rect x="1039" y="483" width="3" height="18" fill="#ef5350"/>
<rect x="1044" y="494" width="1" height="14" fill="#ef5350"/>
<rect x="1043" y="498" width="3" height="9" fill="#ef5350"/>
<rect x="1048" y="495" width="1" height="16" fill="#26a69a"/>
<rect x="1047" y="496" width="3" height="13" fill="#26a69a"/>
<rect x="1052" y="483" width="1" height="17" fill="#26a69a"/>
<rect x="1051" y="492" width="3" height="8" fill="#26a69a"/>
<rect x="1055" y="455" width="1" height="42" fill="#26a69a"/>
<rect x="1054" y="456" width="3" height="39" fill="#26a69a"/>
<rect x="1059" y="440" width="1" height="19" fill="#26a69a"/>
<rect x="1058" y="448" width="3" height="10" fill="#26a69a"/>
<rect x="1063" y="410" width="1" height="45" fill="#26a69a"/>
<rect x="1062" y="413" width="3" height="35" fill="#26a69a"/>
<rect x="1067" y="406" width="1" height="20" fill="#26a69a"/>
<rect x="1066" y="408" width="3" height="10" fill="#26a69a"/>
<rect x="1071" y="401" width="1" height="57" fill="#ef5350"/>
<rect x="1070" y="409" width="3" height="48" fill="#ef5350"/>
<rect x="1074" y="445" width="1" height="14" fill="#26a69a"/>
<rect x="1073" y="455" width="3" height="3" fill="#26a69a"/>
<rect x="1078" y="442" width="1" height="17" fill="#26a69a"/>
<rect x="1077" y="453" width="3" height="5" fill="#26a69a"/>
<rect x="1082" y="450" width="1" height="25" fill="#ef5350"/>
<rect x="1081" y="453" width="3" height="21" fill="#ef5350"/>
<rect x="1086" y="464" width="1" height="17" fill="#ef5350"/>
<rect x="1085" y="469" width="3" height="10" fill="#ef5350"/>
<rect x="1090" y="469" width="1" height="12" fill="#26a69a"/>
<rect x="1089" y="470" width="3" height="10" fill="#26a69a"/>
<rect x="1093" y="456" width="1" height="23" fill="#26a69a"/>
<rect x="1092" y="462" width="3" height="11" fill="#26a69a"/>
<rect x="1097" y="458" width="1" height="25" fill="#ef5350"/>
<rect x="1096" y="462" width="3" height="17" fill="#ef5350"/>
<rect x="1101" y="475" width="1" height="17" fill="#ef5350"/>
<rect x="1100" y="478" width="3" height="11" fill="#ef5350"/>
<rect x="1105" y="472" width="1" height="19" fill="#26a69a"/>
<rect x="1104" y="473" width="3" height="16" fill="#26a69a"/>
<rect x="1108" y="471" width="1" height="18" fill="#ef5350"/>
<rect x="1107" y="473" width="3" height="12" fill="#ef5350"/>
<rect x="1112" y="475" width="1" height="13" fill="#26a69a"/>
<rect x="1111" y="476" width="3" height="12" fill="#26a69a"/>
<rect x="1116" y="467" width="1" height="15" fill="#26a69a"/>
<rect x="1115" y="469" width="3" height="7" fill="#26a69a"/>
<rect x="1120" y="464" width="1" height="12" fill="#ef5350"/>
<rect x="1119" y="469" width="3" height="4" fill="#ef5350"/>
<rect x="1124" y="456" width="1" height="17" fill="#26a69a"/>
<rect x="1123" y="458" width="3" height="14" fill="#26a69a"/>
<rect x="1127" y="450" width="1" height="45" fill="#ef5350"/>
<rect x="1126" y="458" width="3" height="32" fill="#ef5350"/>
<rect x="1131" y="460" width="1" height="30" fill="#26a69a"/>
<rect x="1130" y="464" width="3" height="26" fill="#26a69a"/>
<rect x="1135" y="460" width="1" height="16" fill="#ef5350"/>
<rect x="1134" y="463" width="3" height="10" fill="#ef5350"/>
<rect x="1139" y="454" width="1" height="20" fill="#ef5350"/>
<rect x="1138" y="471" width="3" height="2" fill="#ef5350"/>
<rect x="1143" y="472" width="1" height="17" fill="#ef5350"/>
<rect x="1142" y="475" width="3" height="9" fill="#ef5350"/>
<rect x="1146" y="475" width="1" height="14" fill="#ef5350"/>
<rect x="1145" y="484" width="3" height="1" fill="#ef5350"/>
<rect x="1150" y="484" width="1" height="12" fill="#ef5350"/>
<rect x="1149" y="485" width="3" height="6" fill="#ef5350"/>
<rect x="1154" y="459" width="1" height="34" fill="#26a69a"/>
<rect x="1153" y="469" width="3" height="24" fill="#26a69a"/>
<rect x="1158" y="457" width="1" height="20" fill="#ef5350"/>
<rect x="1157" y="466" width="3" height="9" fill="#ef5350"/>
<rect x="1162" y="464" width="1" height="12" fill="#26a69a"/>
<rect x="1161" y="470" width="3" height="6" fill="#26a69a"/>
<rect x="1165" y="470" width="1" height="29" fill="#ef5350"/>
<rect x="1164" y="471" width="3" height="19" fill="#ef5350"/>
<rect x="1169" y="481" width="1" height="19" fill="#ef5350"/>
<rect x="1168" y="487" width="3" height="13" fill="#ef5350"/>
<rect x="1173" y="486" width="1" height="20" fill="#26a69a"/>
<rect x="1172" y="488" width="3" height="14" fill="#26a69a"/>
<rect x="1177" y="482" width="1" height="12" fill="#ef5350"/>
<rect x="1176" y="485" width="3" height="1" fill="#ef5350"/>
<rect x="1180" y="476" width="1" height="22" fill="#ef5350"/>
<rect x="1179" y="487" width="3" height="11" fill="#ef5350"/>
<rect x="1184" y="484" width="1" height="13" fill="#26a69a"/>
<rect x="1183" y="493" width="3" height="4" fill="#26a69a"/>
<rect x="1188" y="490" width="1" height="15" fill="#ef5350"/>
<rect x="1187" y="492" width="3" height="11" fill="#ef5350"/></g><g clip-path="url(#cr)"><polyline points="10.3,630.9 14.1,632.6 17.9,634.9 21.7,638.1 25.5,640.6 29.2,642.7 33.0,645.3 36.8,649.4 40.6,654.6 44.4,659.0 48.2,663.5 52.0,669.3 55.8,673.0 59.6,676.0 63.3,679.1 67.1,679.9 70.9,680.6 74.7,680.1 78.5,680.6 82.3,680.4 86.1,680.3 89.9,680.0 93.6,677.2 97.4,678.0 101.2,679.3 105.0,678.9 108.8,679.7 112.6,680.9 116.4,681.9 120.2,683.8 124.0,686.4 127.7,689.4 131.5,690.1 135.3,693.4 139.1,697.0 142.9,699.9 146.7,704.5 150.5,704.9 154.3,705.8 158.1,706.6 161.8,708.6 165.6,709.4 169.4,709.0 173.2,707.7 177.0,705.4 180.8,702.6 184.6,702.8 188.4,702.0 192.1,699.8 195.9,695.7 199.7,691.2 203.5,687.9 207.3,684.6 211.1,682.4 214.9,680.5 218.7,679.1 222.5,678.8 226.2,680.1 230.0,680.8 233.8,681.3 237.6,682.0 241.4,680.4 245.2,680.1 249.0,681.5 252.8,681.8 256.6,681.1 260.3,678.3 264.1,674.6 267.9,668.8 271.7,664.5 275.5,659.7 279.3,653.5 283.1,647.7 286.9,642.5 290.6,635.4 294.4,630.3 298.2,623.7 302.0,616.3 305.8,611.4 309.6,606.7 313.4,602.8 317.2,599.0 321.0,598.1 324.7,596.3 328.5,594.8 332.3,594.3 336.1,594.4 339.9,595.7 343.7,596.3 347.5,598.7 351.3,603.1 355.1,604.5 358.8,606.5 362.6,608.4 366.4,609.8 370.2,611.2 374.0,610.3 377.8,609.6 381.6,609.2 385.4,609.9 389.2,610.0 392.9,608.5 396.7,607.5 400.5,604.3 404.3,601.6 408.1,602.0 411.9,602.7 415.7,604.0 419.5,606.9 423.2,609.3 427.0,612.4 430.8,615.9 434.6,620.3 438.4,622.8 442.2,624.9 446.0,627.3 449.8,629.8 453.6,632.0 457.3,632.6 461.1,633.6 464.9,632.3 468.7,629.1 472.5,624.8 476.3,623.5 480.1,621.6 483.9,619.7 487.7,616.5 491.4,614.0 495.2,611.8 499.0,609.2 502.8,605.9 506.6,604.6 510.4,605.1 514.2,604.5 518.0,603.5 521.7,604.5 525.5,605.0 529.3,604.1 533.1,604.7 536.9,605.6 540.7,606.9 544.5,606.9 548.3,610.8 552.1,615.2 555.8,620.4 559.6,624.6 563.4,628.4 567.2,632.9 571.0,636.7 574.8,640.2 578.6,644.3 582.4,647.2 586.2,649.4 589.9,652.3 593.7,655.7 597.5,659.8 601.3,658.6 605.1,657.6 608.9,658.1 612.7,658.2 616.5,659.0 620.2,660.2 624.0,662.8 627.8,665.0 631.6,666.8 635.4,671.1 639.2,674.1 643.0,675.8 646.8,677.5 650.6,678.8 654.3,679.5 658.1,679.6 661.9,680.8 665.7,683.6 669.5,685.7 673.3,687.5 677.1,689.4 680.9,692.3 684.7,696.2 688.4,697.9 692.2,699.8 696.0,702.0 699.8,703.8 703.6,706.5 707.4,710.6 711.2,714.3 715.0,714.9 718.7,713.4 722.5,710.7 726.3,706.6 730.1,703.1 733.9,700.2 737.7,696.2 741.5,692.7 745.3,691.0 749.1,691.8 752.8,689.6 756.6,686.1 760.4,684.1 764.2,683.1 768.0,685.4 771.8,689.2 775.6,692.7 779.4,696.6 783.2,700.3 786.9,703.0 790.7,707.2 794.5,708.9 798.3,709.3 802.1,707.5 805.9,707.8 809.7,709.9 813.5,710.7 817.3,710.7 821.0,707.4 824.8,703.5 828.6,699.9 832.4,697.8 836.2,694.0 840.0,689.2 843.8,684.1 847.6,679.3 851.3,676.1 855.1,672.3 858.9,669.4 862.7,665.5 866.5,663.1 870.3,662.1 874.1,662.4 877.9,662.1 881.7,662.7 885.4,662.9 889.2,662.8 893.0,663.4 896.8,664.5 900.6,667.4 904.4,670.0 908.2,671.7 912.0,673.7 915.8,676.2 919.5,676.6 923.3,676.7 927.1,676.4 930.9,677.2 934.7,678.0 938.5,677.8 942.3,679.0 946.1,679.2 949.8,678.5 953.6,678.1 957.4,676.6 961.2,677.1 965.0,677.7 968.8,678.7 972.6,681.2 976.4,683.6 980.2,686.8 983.9,689.4 987.7,690.4 991.5,690.8 995.3,691.6 999.1,692.2 1002.9,692.7 1006.7,693.3 1010.5,693.6 1014.3,692.1 1018.0,689.1 1021.8,684.1 1025.6,680.0 1029.4,674.7 1033.2,669.1 1037.0,665.1 1040.8,662.7 1044.6,661.8 1048.3,659.7 1052.1,659.0 1055.9,655.9 1059.7,652.2 1063.5,647.3 1067.3,643.1 1071.1,642.9 1074.9,644.1 1078.7,643.8 1082.4,645.8 1086.2,647.6 1090.0,647.1 1093.8,645.0 1097.6,643.7 1101.4,643.8 1105.2,643.2 1109.0,645.8 1112.8,648.2 1116.5,651.8 1120.3,655.8 1124.1,655.5 1127.9,657.4 1131.7,657.8 1135.5,657.4 1139.3,656.8 1143.1,657.4 1146.8,658.6 1150.6,659.1 1154.4,657.5 1158.2,657.4 1162.0,656.2 1165.8,656.9 1169.6,658.7 1173.4,659.4 1177.2,660.9 1180.9,661.2 1184.7,662.6 1188.5,664.2" fill="none" stroke="#fdd835" stroke-width="1.3" stroke-linejoin="round"/><polyline points="10.3,634.9 14.1,654.4 17.9,663.1 21.7,675.5 25.5,665.9 29.2,659.4 33.0,666.7 36.8,688.6 40.6,703.2 44.4,692.3 48.2,693.7 52.0,711.1 55.8,681.9 59.6,672.9 63.3,677.9 67.1,666.0 70.9,672.9 74.7,669.0 78.5,672.3 82.3,657.4 86.1,664.6 89.9,684.2 93.6,664.6 97.4,702.8 101.2,712.9 105.0,705.2 108.8,692.6 112.6,689.7 116.4,693.2 120.2,692.1 124.0,709.4 127.7,710.5 131.5,683.0 135.3,702.6 139.1,715.3 142.9,724.6 146.7,729.3 150.5,708.9 154.3,725.7 158.1,715.3 161.8,721.5 165.6,700.4 169.4,687.8 173.2,673.9 177.0,677.2 180.8,671.3 184.6,685.4 188.4,692.1 192.1,684.5 195.9,666.7 199.7,666.3 203.5,662.5 207.3,679.6 211.1,684.0 214.9,695.9 218.7,680.1 222.5,683.7 226.2,692.5 230.0,686.5 233.8,678.3 237.6,695.9 241.4,668.8 245.2,680.6 249.0,685.8 252.8,670.7 256.6,653.4 260.3,640.5 264.1,631.1 267.9,615.7 271.7,618.9 275.5,616.5 279.3,605.8 283.1,605.8 286.9,605.1 290.6,597.1 294.4,596.6 298.2,588.4 302.0,582.8 305.8,601.7 309.6,588.2 313.4,586.1 317.2,577.6 321.0,602.2 324.7,593.9 328.5,595.9 332.3,599.0 336.1,607.7 339.9,622.1 343.7,606.5 347.5,629.9 351.3,649.4 355.1,602.7 358.8,629.3 362.6,616.0 366.4,605.4 370.2,597.3 374.0,589.1 377.8,583.8 381.6,590.7 385.4,608.7 389.2,609.6 392.9,600.1 396.7,593.0 400.5,585.2 404.3,610.9 408.1,609.6 411.9,638.3 415.7,634.9 419.5,645.9 423.2,630.7 427.0,632.4 430.8,632.1 434.6,652.3 438.4,644.3 442.2,639.2 446.0,634.0 449.8,626.8 453.6,616.9 457.3,619.0 461.1,623.1 464.9,620.7 468.7,589.8 472.5,586.0 476.3,612.0 480.1,606.2 483.9,605.5 487.7,607.0 491.4,610.4 495.2,608.4 499.0,597.3 502.8,580.6 506.6,598.5 510.4,625.4 514.2,614.6 518.0,607.3 521.7,603.4 525.5,593.4 529.3,599.9 533.1,613.8 536.9,619.0 540.7,624.3 544.5,611.0 548.3,662.9 552.1,658.9 555.8,652.8 559.6,658.4 563.4,677.4 567.2,678.0 571.0,660.2 574.8,653.0 578.6,650.7 582.4,639.9 586.2,644.5 589.9,660.2 593.7,672.3 597.5,668.1 601.3,646.3 605.1,645.0 608.9,659.8 612.7,659.8 616.5,688.4 620.2,695.1 624.0,696.7 627.8,682.6 631.6,676.5 635.4,700.0 639.2,686.7 643.0,683.8 646.8,696.1 650.6,686.1 654.3,656.0 658.1,646.8 661.9,676.7 665.7,698.4 669.5,718.4 673.3,720.1 677.1,723.5 680.9,723.5 684.7,730.4 688.4,723.7 692.2,713.3 696.0,715.2 699.8,720.7 703.6,723.9 707.4,713.6 711.2,698.4 715.0,684.6 718.7,677.5 722.5,680.5 726.3,662.8 730.1,675.2 733.9,682.6 737.7,674.8 741.5,674.1 745.3,690.4 749.1,726.1 752.8,690.5 756.6,673.8 760.4,685.8 764.2,685.0 768.0,717.2 771.8,729.5 775.6,730.7 779.4,716.9 783.2,726.7 786.9,721.3 790.7,733.0 794.5,698.4 798.3,695.1 802.1,701.7 805.9,694.2 809.7,703.4 813.5,696.7 817.3,684.8 821.0,671.8 824.8,674.9 828.6,679.8 832.4,687.1 836.2,673.6 840.0,654.9 843.8,660.6 847.6,631.7 851.3,650.5 855.1,648.3 858.9,653.2 862.7,649.0 866.5,662.8 870.3,670.5 874.1,677.0 877.9,671.1 881.7,687.4 885.4,690.3 889.2,671.9 893.0,663.5 896.8,676.0 900.6,672.1 904.4,687.6 908.2,672.1 912.0,681.0 915.8,683.3 919.5,668.2 923.3,672.9 927.1,672.1 930.9,683.0 934.7,698.1 938.5,687.8 942.3,688.4 946.1,666.0 949.8,666.0 953.6,667.4 957.4,666.5 961.2,679.2 965.0,689.4 968.8,696.3 972.6,704.1 976.4,705.8 980.2,717.0 983.9,720.0 987.7,711.0 991.5,694.6 995.3,698.7 999.1,674.2 1002.9,674.2 1006.7,675.9 1010.5,670.6 1014.3,657.2 1018.0,648.1 1021.8,626.7 1025.6,645.6 1029.4,632.4 1033.2,638.9 1037.0,663.2 1040.8,676.9 1044.6,682.5 1048.3,669.4 1052.1,664.3 1055.9,630.6 1059.7,624.2 1063.5,601.5 1067.3,598.7 1071.1,645.1 1074.9,643.5 1078.7,642.4 1082.4,660.0 1086.2,663.8 1090.0,655.8 1093.8,648.8 1097.6,663.1 1101.4,671.2 1105.2,656.3 1109.0,666.8 1112.8,657.6 1116.5,651.8 1120.3,654.9 1124.1,641.5 1127.9,669.6 1131.7,647.7 1135.5,654.7 1139.3,655.4 1143.1,664.2 1146.8,665.3 1150.6,670.6 1154.4,648.8 1158.2,654.1 1162.0,649.9 1165.8,668.4 1169.6,677.2 1173.4,664.7 1177.2,661.8 1180.9,673.2 1184.7,667.8 1188.5,677.0" fill="none" stroke="#7e57c2" stroke-width="3" stroke-linejoin="round"/></g><path d="M1292.5 28V772 M11 564.5H1357 M11 745.5H1357" stroke="#e0e0e6" stroke-width="1" fill="none"/><clipPath id="ct"><rect x="11" y="746" width="1281" height="26"/></clipPath><g clip-path="url(#ct)"><text x="9.5" y="763" font-family="Liberation Sans, sans-serif" font-size="11.5" fill="#131722" text-anchor="middle" >Jul</text><text x="93.6" y="763" font-family="Liberation Sans, sans-serif" font-size="11.5" fill="#131722" text-anchor="middle" >Aug</text><text x="177.0" y="763" font-family="Liberation Sans, sans-serif" font-size="11.5" fill="#131722" text-anchor="middle" >Sep</text><text x="256.6" y="763" font-family="Liberation Sans, sans-serif" font-size="11.5" fill="#131722" text-anchor="middle" >Oct</text><text x="343.7" y="763" font-family="Liberation Sans, sans-serif" font-size="11.5" fill="#131722" text-anchor="middle" >Nov</text><text x="423.2" y="763" font-family="Liberation Sans, sans-serif" font-size="11.5" fill="#131722" text-anchor="middle" >Dec</text><text x="502.8" y="763" font-family="Liberation Sans, sans-serif" font-size="12" fill="#131722" text-anchor="middle" font-weight="bold">2025</text><text x="586.2" y="763" font-family="Liberation Sans, sans-serif" font-size="11.5" fill="#131722" text-anchor="middle" >Feb</text><text x="661.9" y="763" font-family="Liberation Sans, sans-serif" font-size="11.5" fill="#131722" text-anchor="middle" >Mar</text><text x="741.5" y="763" font-family="Liberation Sans, sans-serif" font-size="11.5" fill="#131722" text-anchor="middle" >Apr</text><text x="821.0" y="763" font-family="Liberation Sans, sans-serif" font-size="11.5" fill="#131722" text-anchor="middle" >May</text><text x="904.4" y="763" font-family="Liberation Sans, sans-serif" font-size="11.5" fill="#131722" text-anchor="middle" >Jun</text><text x="983.9" y="763" font-family="Liberation Sans, sans-serif" font-size="11.5" fill="#131722" text-anchor="middle" >Jul</text><text x="1071.1" y="763" font-family="Liberation Sans, sans-serif" font-size="11.5" fill="#131722" text-anchor="middle" >Aug</text><text x="1150.6" y="763" font-family="Liberation Sans, sans-serif" font-size="11.5" fill="#131722" text-anchor="middle" >Sep</text><text x="1234.0" y="763" font-family="Liberation Sans, sans-serif" font-size="11.5" fill="#131722" text-anchor="middle" >Oct</text></g><text x="1302" y="448.4" font-family="Liberation Sans, sans-serif" font-size="12" fill="#131722" textLength="34.7" lengthAdjust="spacingAndGlyphs">99.000</text><text x="1302" y="413.4" font-family="Liberation Sans, sans-serif" font-size="12" fill="#131722" textLength="41" lengthAdjust="spacingAndGlyphs">100.000</text><text x="1302" y="378.5" font-family="Liberation Sans, sans-serif" font-size="12" fill="#131722" textLength="41" lengthAdjust="spacingAndGlyphs">101.000</text><text x="1302" y="308.6" font-family="Liberation Sans, sans-serif" font-size="12" fill="#131722" textLength="41" lengthAdjust="spacingAndGlyphs">103.000</text><text x="1302" y="273.7" font-family="Liberation Sans, sans-serif" font-size="12" fill="#131722" textLength="41" lengthAdjust="spacingAndGlyphs">104.000</text><text x="1302" y="238.8" font-family="Liberation Sans, sans-serif" font-size="12" fill="#131722" textLength="41" lengthAdjust="spacingAndGlyphs">105.000</text><text x="1302" y="203.8" font-family="Liberation Sans, sans-serif" font-size="12" fill="#131722" textLength="41" lengthAdjust="spacingAndGlyphs">106.000</text><text x="1302" y="168.9" font-family="Liberation Sans, sans-serif" font-size="12" fill="#131722" textLength="41" lengthAdjust="spacingAndGlyphs">107.000</text><text x="1302" y="99.0" font-family="Liberation Sans, sans-serif" font-size="12" fill="#131722" textLength="41" lengthAdjust="spacingAndGlyphs">109.000</text><text x="1302" y="64.1" font-family="Liberation Sans, sans-serif" font-size="12" fill="#131722" textLength="41" lengthAdjust="spacingAndGlyphs">110.000</text><text x="18.4" y="45.8" font-family="Liberation Sans, sans-serif" font-size="12" fill="#131722" textLength="147.7" lengthAdjust="spacingAndGlyphs" >U.S. Dollar Index · 1D · TVC</text><text x="173.4" y="45.8" font-family="Liberation Sans, sans-serif" font-size="12" fill="#131722" >O</text><text x="182.7" y="45.8" font-family="Liberation Sans, sans-serif" font-size="12" fill="#ef5350" textLength="34.7" lengthAdjust="spacingAndGlyphs" >97.626</text><text x="225.3" y="45.8" font-family="Liberation Sans, sans-serif" font-size="12" fill="#131722" >H</text><text x="233.7" y="45.8" font-family="Liberation Sans, sans-serif" font-size="12" fill="#ef5350" textLength="34.4" lengthAdjust="spacingAndGlyphs" >97.702</text><text x="276.3" y="45.8" font-family="Liberation Sans, sans-serif" font-size="12" fill="#131722" >L</text><text x="282.9" y="45.8" font-family="Liberation Sans, sans-serif" font-size="12" fill="#ef5350" textLength="34.4" lengthAdjust="spacingAndGlyphs" >97.273</text><text x="325.4" y="45.8" font-family="Liberation Sans, sans-serif" font-size="12" fill="#131722" >C</text><text x="333.6" y="45.8" font-family="Liberation Sans, sans-serif" font-size="12" fill="#ef5350" textLength="33.9" lengthAdjust="spacingAndGlyphs" >97.351</text><text x="375.7" y="45.8" font-family="Liberation Sans, sans-serif" font-size="12" fill="#ef5350" textLength="84.3" lengthAdjust="spacingAndGlyphs" >−0.264 (−0.27%)</text><text x="18.4" y="62.5" font-family="Liberation Sans, sans-serif" font-size="12" fill="#131722" textLength="81.1" lengthAdjust="spacingAndGlyphs" >EMA (20, close)</text><text x="108.2" y="62.5" font-family="Liberation Sans, sans-serif" font-size="12" fill="#2962ff" textLength="34.9" lengthAdjust="spacingAndGlyphs" >97.867</text><text x="18.4" y="79.7" font-family="Liberation Sans, sans-serif" font-size="12" fill="#131722" textLength="81.1" lengthAdjust="spacingAndGlyphs" >SMA (50, close)</text><text x="108.2" y="79.7" font-family="Liberation Sans, sans-serif" font-size="12" fill="#f23645" textLength="34.3" lengthAdjust="spacingAndGlyphs" >98.118</text><text x="18.2" y="584" font-family="Liberation Sans, sans-serif" font-size="12" fill="#131722" textLength="75.3" lengthAdjust="spacingAndGlyphs" >RSI (14, close)</text><text x="101.9" y="584" font-family="Liberation Sans, sans-serif" font-size="12" fill="#7e57c2" textLength="29.2" lengthAdjust="spacingAndGlyphs" >42.16</text><text x="138.4" y="584" font-family="Liberation Sans, sans-serif" font-size="12" fill="#fdd835" textLength="29.2" lengthAdjust="spacingAndGlyphs" >46.42</text><rect x="1293" y="28" width="64" height="31.5" fill="#fff"/><rect x="1296.5" y="31" width="57.5" height="26" rx="4" fill="#fff" stroke="#ececf0" stroke-width="1.5"/><text x="1305" y="49.2" font-family="Liberation Sans, sans-serif" font-size="12" fill="#131722" textLength="20" lengthAdjust="spacingAndGlyphs" >USD</text><path d="M1293 122.16H1347Q1349 122.16 1349 124.16V136.96Q1349 138.96 1347 138.96H1293Z" fill="#0000ff"/><text x="1301" y="134.86" font-family="Liberation Sans, sans-serif" font-size="12" fill="#fff" stroke="#fff" stroke-width="0.35" textLength="41" lengthAdjust="spacingAndGlyphs" >108.000</text><path d="M1293 331.77000000000004H1347Q1349 331.77000000000004 1349 333.77000000000004V346.57Q1349 348.57 1347 348.57H1293Z" fill="#0000ff"/><text x="1301" y="344.47" font-family="Liberation Sans, sans-serif" font-size="12" fill="#fff" stroke="#fff" stroke-width="0.35" textLength="41" lengthAdjust="spacingAndGlyphs" >102.000</text><path d="M1293 539.3H1340Q1342 539.3 1342 541.3V553.8Q1342 555.8 1340 555.8H1293Z" fill="#0000ff"/><text x="1301" y="551.9" font-family="Liberation Sans, sans-serif" font-size="12" fill="#fff" stroke="#fff" stroke-width="0.35" textLength="35" lengthAdjust="spacingAndGlyphs" >96.370</text><path d="M1292 459.2H1244Q1242 459.2 1242 461.2V473.5Q1242 475.5 1244 475.5H1292Z" fill="#f23645"/><path d="M1293 459.2H1340Q1342 459.2 1342 461.2V473.5Q1342 475.5 1340 475.5H1293Z" fill="#f23645"/><text x="1247.5" y="471.6" font-family="Liberation Sans, sans-serif" font-size="12" fill="#fff" stroke="#fff" stroke-width="0.35" textLength="40" lengthAdjust="spacingAndGlyphs" >SMA:MA</text><text x="1301" y="471.6" font-family="Liberation Sans, sans-serif" font-size="12" fill="#fff" stroke="#fff" stroke-width="0.35" textLength="35" lengthAdjust="spacingAndGlyphs" >98.118</text><path d="M1292 476.5H1263Q1261 476.5 1261 478.5V490.5Q1261 492.5 1263 492.5H1292Z" fill="#2962ff"/><path d="M1293 476.5H1340Q1342 476.5 1342 478.5V490.5Q1342 492.5 1340 492.5H1293Z" fill="#2962ff"/><text x="1266" y="488.7" font-family="Liberation Sans, sans-serif" font-size="12" fill="#fff" stroke="#fff" stroke-width="0.35" textLength="21.5" lengthAdjust="spacingAndGlyphs" >EMA</text><text x="1301" y="488.7" font-family="Liberation Sans, sans-serif" font-size="12" fill="#fff" stroke="#fff" stroke-width="0.35" textLength="35" lengthAdjust="spacingAndGlyphs" >97.867</text><path d="M1292 494.4H1265Q1263 494.4 1263 496.4V508.7Q1263 510.7 1265 510.7H1292Z" fill="#ef5350"/><path d="M1293 494.4H1351Q1353 494.4 1353 496.4V537Q1353 539 1351 539H1293Z" fill="#ef5350"/><text x="1268" y="506.7" font-family="Liberation Sans, sans-serif" font-size="12" fill="#fff" stroke="#fff" stroke-width="0.35" textLength="20" lengthAdjust="spacingAndGlyphs" >DXY</text><text x="1301" y="506.5" font-family="Liberation Sans, sans-serif" font-size="12" fill="#fff" stroke="#fff" stroke-width="0.35" textLength="35" lengthAdjust="spacingAndGlyphs" >97.351</text><text x="1301" y="520.6" font-family="Liberation Sans, sans-serif" font-size="12" fill="#fff" stroke="#fff" stroke-width="0.35" textLength="36.5" lengthAdjust="spacingAndGlyphs" >−8.03%</text><text x="1301" y="534.4" font-family="Liberation Sans, sans-serif" font-size="12" fill="#fff" stroke="#fff" stroke-width="0.35" textLength="46" lengthAdjust="spacingAndGlyphs" fill-opacity="0.75" stroke-opacity="0.6">06:41:42</text><text x="1301" y="594.9" font-family="Liberation Sans, sans-serif" font-size="12" fill="#131722" textLength="30" lengthAdjust="spacingAndGlyphs" >70.00</text><text x="1301" y="625.9" font-family="Liberation Sans, sans-serif" font-size="12" fill="#131722" textLength="30" lengthAdjust="spacingAndGlyphs" >60.00</text><text x="1301" y="656.9" font-family="Liberation Sans, sans-serif" font-size="12" fill="#131722" textLength="30" lengthAdjust="spacingAndGlyphs" >50.00</text><text x="1301" y="687.9" font-family="Liberation Sans, sans-serif" font-size="12" fill="#131722" textLength="30" lengthAdjust="spacingAndGlyphs" >40.00</text><text x="1301" y="718.9" font-family="Liberation Sans, sans-serif" font-size="12" fill="#131722" textLength="30" lengthAdjust="spacingAndGlyphs" >30.00</text><path d="M1292 653H1215Q1213 653 1213 655V668Q1213 670 1215 670H1292Z" fill="#fdd835"/><path d="M1293 653H1334Q1336 653 1336 655V668Q1336 670 1334 670H1293Z" fill="#fdd835"/><text x="1218" y="665.6" font-family="Liberation Sans, sans-serif" font-size="12" fill="#131722" textLength="70" lengthAdjust="spacingAndGlyphs" >RSI-based MA</text><text x="1302" y="665.6" font-family="Liberation Sans, sans-serif" font-size="12" fill="#131722" textLength="29.2" lengthAdjust="spacingAndGlyphs" >46.42</text><path d="M1292 670.5H1269Q1267 670.5 1267 672.5V684.5Q1267 686.5 1269 686.5H1292Z" fill="#7e57c2"/><path d="M1293 670.5H1334Q1336 670.5 1336 672.5V684.5Q1336 686.5 1334 686.5H1293Z" fill="#7e57c2"/><text x="1272" y="682.8" font-family="Liberation Sans, sans-serif" font-size="12" fill="#fff" stroke="#fff" stroke-width="0.35" textLength="16" lengthAdjust="spacingAndGlyphs" >RSI</text><text x="1301" y="682.8" font-family="Liberation Sans, sans-serif" font-size="12" fill="#fff" stroke="#fff" stroke-width="0.35" textLength="29.2" lengthAdjust="spacingAndGlyphs" >42.16</text><path d="M1197.6 548.6 A9.5 9.5 0 1 1 1191.4 542.3" fill="none" stroke="#7e57c2" stroke-width="1.6" stroke-linecap="round"/><circle cx="1195.5" cy="544.5" r="2.6" fill="#f23645"/><path d="M1191 545.8 L1184 551.9 L1188 551.9 L1185 557 L1192.9 550.8 L1188.9 550.8 Z" fill="#7e57c2"/><path d="M12 795H23.9V809.8H18.1V800.9H12Z" fill="#131722"/><circle cx="29" cy="798" r="2.85" fill="#131722"/><path d="M35.2 795H41.8L36.1 809.8H29.3Z" fill="#131722"/><text x="49" y="809.8" font-family="Liberation Sans, sans-serif" font-weight="bold" font-size="20.5" fill="#131722" textLength="121" lengthAdjust="spacingAndGlyphs">TradingView</text></svg>
</body></html>
